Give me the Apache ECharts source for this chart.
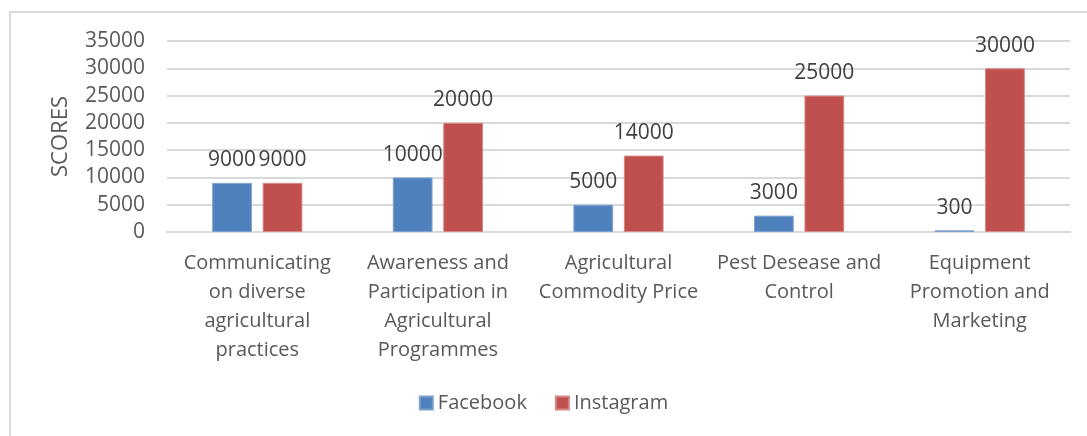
<!DOCTYPE html>
<html>
<head>
<meta charset="utf-8">
<script src="https://cdn.jsdelivr.net/npm/echarts@6/dist/echarts.min.js"></script>
<style>
  html, body { margin: 0; padding: 0; background: #fff; }
  #frame { position: absolute; left: 9px; top: 11px; width: 1090px; height: 440px; border: 2px solid #d9d9d9; box-sizing: border-box; }
  #chart { position: absolute; left: 0; top: 0; width: 1087px; height: 436px; }
</style>
</head>
<body>
<div id="frame"></div>
<div id="chart"></div>
<script>
const categories = [
  "Communicating\non diverse\nagricultural\npractices",
  "Awareness and\nParticipation in\nAgricultural\nProgrammes",
  "Agricultural\nCommodity Price",
  "Pest Desease and\nControl",
  "Equipment\nPromotion and\nMarketing"
];
const seriesNames = ["Facebook", "Instagram"];
const facebook = [9000, 10000, 5000, 3000, 300];
const instagram = [9000, 20000, 14000, 25000, 30000];
const yTicks = { min: 0, max: 35000, interval: 5000 };
const yAxisName = "SCORES";

const FONT = "Open Sans";
const chart = echarts.init(document.getElementById('chart'), null, { renderer: 'canvas' });
const labelStyle = {
  show: true, position: 'top', distance: 12,
  color: '#404040', fontFamily: FONT, fontSize: 21
};
chart.setOption({
  animation: false,
  backgroundColor: 'transparent',
  grid: { left: 167, right: 17, top: 41, bottom: 204, containLabel: false },
  legend: {
    data: seriesNames,
    bottom: 18, left: 'center',
    itemWidth: 13, itemHeight: 13, itemGap: 28,
    icon: 'rect',
    textStyle: { color: '#595959', fontFamily: FONT, fontSize: 20 }
  },
  xAxis: {
    type: 'category',
    data: categories,
    axisLine: { show: true, lineStyle: { color: '#d9d9d9', width: 2 } },
    axisTick: { show: false },
    axisLabel: {
      color: '#595959', fontFamily: FONT, fontSize: 20, lineHeight: 29,
      margin: 17, interval: 0, align: 'center'
    }
  },
  yAxis: {
    type: 'value',
    min: yTicks.min, max: yTicks.max, interval: yTicks.interval,
    name: yAxisName,
    nameLocation: 'middle', nameGap: 95, nameRotate: 90,
    nameTextStyle: { color: '#595959', fontFamily: FONT, fontSize: 22 },
    axisLine: { show: false },
    axisTick: { show: false },
    splitLine: { show: true, lineStyle: { color: '#d9d9d9', width: 2 } },
    axisLabel: { color: '#595959', fontFamily: FONT, fontSize: 21, margin: 22, formatter: v => String(v) }
  },
  series: [
    {
      name: seriesNames[0], type: 'bar', data: facebook,
      barWidth: '22%', barGap: '27%',
      itemStyle: { color: '#4F81BD', borderColor: '#7da0cf', borderWidth: 1 },
      label: labelStyle
    },
    {
      name: seriesNames[1], type: 'bar', data: instagram,
      barWidth: '22%', barGap: '27%',
      itemStyle: { color: '#C0504D', borderColor: '#d78583', borderWidth: 1 },
      label: labelStyle
    }
  ]
});
</script>
</body>
</html>
